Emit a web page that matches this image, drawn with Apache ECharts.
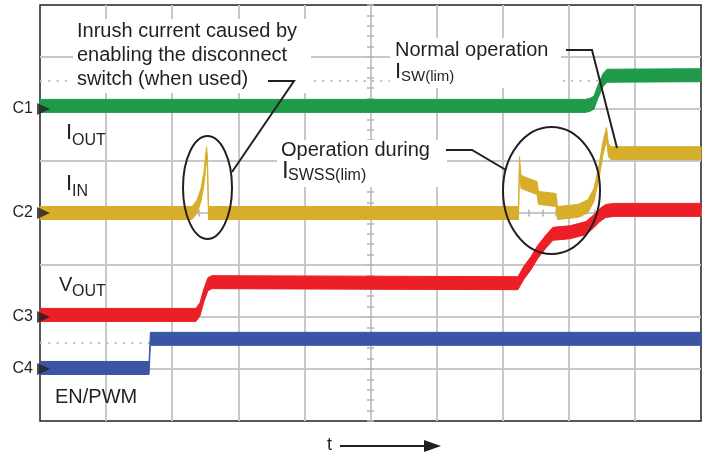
<!DOCTYPE html>
<html><head><meta charset="utf-8">
<script src="https://cdn.jsdelivr.net/npm/echarts@6/dist/echarts.min.js"></script>
<style>html,body{margin:0;padding:0;background:#fff}#c{width:707px;height:455px}</style>
</head><body><div id="c"></div>
<script>
// Channel markers (divisions from bottom of screen)
const channelNames = ['C1', 'C2', 'C3', 'C4'];
const channelLevels = [6, 4, 2, 1];
// Traces: [time (div), level (div)]
const greenTrace = [[0,6.06],[8.25,6.06],[8.32,6.08],[8.38,6.12],[8.44,6.33],[8.52,6.56],[8.58,6.64],[10,6.65]];
const goldTrace = [[0,4.0],[2.30,4.0],[2.375,4.12],[2.436,4.35],[2.481,4.67],[2.519,5.15],[2.534,4.95],[2.549,4.0],
  [7.239,4.0],[7.254,4.96],[7.277,4.60],[7.352,4.56],[7.519,4.48],[7.542,4.29],[7.806,4.25],[7.829,4.0],
  [8.139,4.04],[8.29,4.13],[8.381,4.35],[8.457,4.79],[8.517,5.25],[8.570,5.52],[8.600,5.21],[8.638,5.15],[10,5.15]];
const redTrace = [[0,2.04],[2.36,2.04],[2.42,2.15],[2.48,2.42],[2.54,2.63],[2.60,2.67],[7.23,2.65],[7.32,2.85],
  [7.43,3.04],[7.53,3.25],[7.66,3.46],[7.76,3.60],[8.02,3.63],[8.26,3.71],[8.37,3.83],[8.47,3.96],[8.56,4.04],[8.70,4.06],[10,4.06]];
const blueTrace = [[0,1.02],[1.65,1.02],[1.67,1.58],[10,1.58]];
// Dotted reference levels
const refLevels = [6.54, 1.50];

const FONT = '"Liberation Sans", Arial, Helvetica, sans-serif';
const INK = '#231f20';
const GRID = '#c8c8c8';
const HALF = 0.125;

function band(name, pts, color) {
  return {
    type: 'custom', name: name, data: pts, encode: {x: 0, y: 1}, clip: false, silent: true, z: 3,
    renderItem: function (params, api) {
      if (params.dataIndex !== 0) return null;
      const up = pts.map(p => api.coord([p[0], p[1] + HALF]));
      const lo = pts.slice().reverse().map(p => api.coord([p[0], p[1] - HALF]));
      return {type: 'polygon', shape: {points: up.concat(lo)}, style: {fill: color, stroke: color, lineWidth: 1}};
    }
  };
}

function txt(text, x, baseline, size, extra) {
  return Object.assign({type: 'text', x: x, y: baseline - 0.35 * size, z: 110,
    style: {text: text, fontSize: size, fontFamily: FONT, fill: INK, verticalAlign: 'middle', align: 'left'}}, extra || {});
}
function box(x, y, w, h) {
  return {type: 'rect', shape: {x: x, y: y, width: w, height: h}, style: {fill: '#fff'}, z: 100};
}
function poly(points) {
  return {type: 'polyline', shape: {points: points}, style: {stroke: INK, lineWidth: 2, fill: null}, z: 120};
}

const chart = echarts.init(document.getElementById('c'), null, {renderer: 'canvas'});
const tickAxisX = (inside) => ({type: 'value', min: 0, max: 10, interval: 0.2, position: 'bottom', offset: -208,
  axisLine: {show: false}, axisLabel: {show: false}, splitLine: {show: false},
  axisTick: {show: true, inside: inside, length: 3.5, lineStyle: {color: '#b4b4b4', width: 1.5}}});
const tickAxisY = (inside) => ({type: 'value', min: 0, max: 8, interval: 0.2, position: 'left', offset: -330.5,
  axisLine: {show: false}, axisLabel: {show: false}, splitLine: {show: false},
  axisTick: {show: true, inside: inside, length: 3.5, lineStyle: {color: '#b4b4b4', width: 1.5}}});

chart.setOption({
  animation: false,
  backgroundColor: '#fff',
  grid: {left: 40, top: 5, width: 661, height: 416, show: true, borderColor: INK, borderWidth: 1.5, backgroundColor: '#fff'},
  xAxis: [
    {type: 'value', min: 0, max: 10, interval: 1, axisLine: {show: false}, axisTick: {show: false}, axisLabel: {show: false},
      splitLine: {show: true, showMinLine: false, showMaxLine: false, lineStyle: {color: GRID, width: 2}}},
    tickAxisX(true), tickAxisX(false)
  ],
  yAxis: [
    {type: 'value', min: 0, max: 8, interval: 1, axisLine: {show: false}, axisTick: {show: false},
      splitLine: {show: true, showMinLine: false, showMaxLine: false, lineStyle: {color: GRID, width: 2}},
      axisLabel: {show: true, margin: 7, color: INK, fontSize: 16, fontFamily: FONT, padding: [3, 0, 0, 0],
        formatter: function (v) { const i = channelLevels.indexOf(v); return i >= 0 ? channelNames[i] : ''; }}},
    tickAxisY(true), tickAxisY(false)
  ],
  series: [
    ...refLevels.map(v => ({type: 'line', data: [[0, v], [10, v]], symbol: 'none', silent: true, z: 1,
      lineStyle: {color: '#bdbdbd', width: 2, type: [2, 6.3]}})),
    band('C1', greenTrace, '#1e9a4a'),
    band('C2', goldTrace, '#d6ae2c'),
    band('C3', redTrace, '#ec1f26'),
    band('C4', blueTrace, '#3a55a5'),
    {type: 'scatter', data: channelLevels.map(v => [0, v]), symbol: 'triangle', symbolRotate: -90,
      symbolSize: [12, 13], symbolOffset: [3.5, 0], clip: false, silent: true, z: 10,
      itemStyle: {color: INK}}
  ],
  graphic: {elements: [
    box(73, 19, 238, 74),
    txt('Inrush current caused by', 77, 38, 20),
    txt('enabling the disconnect', 77, 62, 20),
    txt('switch (when used)', 77, 86, 20),
    poly([[268, 81], [294, 81], [232, 172]]),
    {type: 'ellipse', shape: {cx: 207.5, cy: 187.5, rx: 24.5, ry: 51.5}, style: {stroke: INK, lineWidth: 2, fill: null}, z: 120},

    box(390, 38, 171, 50),
    txt('Normal operation', 395, 57, 20),
    txt('I', 395, 80, 22),
    txt('SW(lim)', 401, 82, 15),
    poly([[566, 50], [592, 50], [617, 148]]),

    box(277, 140, 170, 47),
    txt('Operation during', 281, 157, 20),
    txt('I', 282, 180, 24),
    txt('SWSS(lim)', 288, 181, 16),
    poly([[446, 150], [472, 150], [506, 170]]),
    {type: 'ellipse', shape: {cx: 551.5, cy: 190.5, rx: 48.5, ry: 63.5}, style: {stroke: INK, lineWidth: 2, fill: null}, z: 120},

    txt('I', 66, 141, 22), txt('OUT', 72, 146, 16),
    txt('I', 66, 192, 22), txt('IN', 72, 197, 16),
    txt('V', 59, 292, 20), txt('OUT', 72, 297, 16),
    txt('EN/PWM', 55, 404, 20),

    txt('t', 327, 451, 18),
    {type: 'line', shape: {x1: 340, y1: 446, x2: 428, y2: 446}, style: {stroke: INK, lineWidth: 2}, z: 120},
    {type: 'polygon', shape: {points: [[424, 440], [441, 446], [424, 452]]}, style: {fill: INK}, z: 120}
  ]}
});
</script>
</body></html>
